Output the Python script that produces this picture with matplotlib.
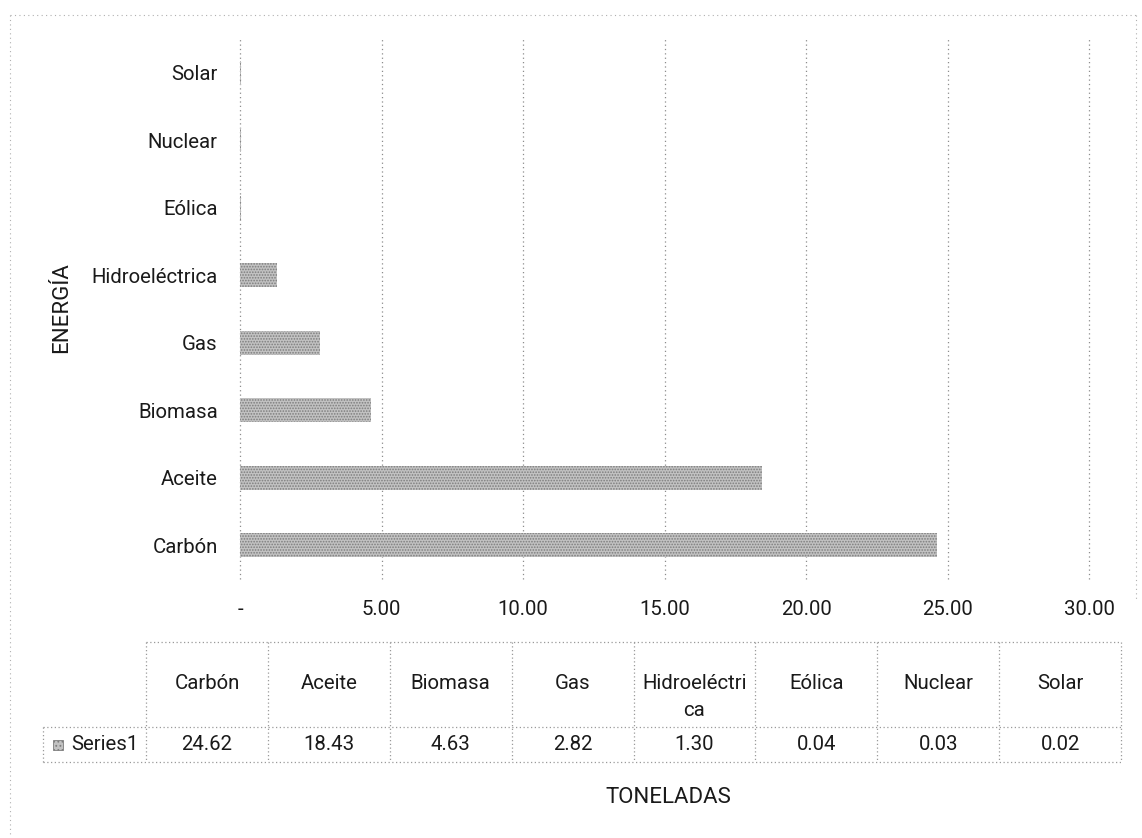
import matplotlib
matplotlib.use("Agg")
import matplotlib.pyplot as plt
from matplotlib.lines import Line2D
from matplotlib.patches import Rectangle
from matplotlib.ticker import FuncFormatter, MultipleLocator

# Data
categories = ["Carbón", "Aceite", "Biomasa", "Gas", "Hidroeléctrica", "Eólica", "Nuclear", "Solar"]
toneladas = [24.62, 18.43, 4.63, 2.82, 1.30, 0.04, 0.03, 0.02]
series_name = "Series1"
x_label = "TONELADAS"
y_label = "ENERGÍA"

plt.rcParams["font.family"] = ["Roboto", "DejaVu Sans"]
plt.rcParams["hatch.linewidth"] = 0.8
TXT = "#1a1a1a"
GRID = "#8c8c8c"
BAR = "#c2c2c2"
FS = 14.7
FS_TITLE = 16

W, H = 1142, 838
fig = plt.figure(figsize=(W / 100, H / 100), dpi=100)
fig.patch.set_facecolor("white")


def fx(px):
    return px / W


def fy(py):
    return 1 - py / H


ax = fig.add_axes([fx(240), fy(579), fx(1089) - fx(240), fy(39) - fy(579)])
ypos = list(range(len(categories)))
ax.barh(ypos, toneladas, height=0.36, color=BAR, hatch="......",
        edgecolor="#7d7d7d", linewidth=0)
ax.set_xlim(0, 30)
ax.set_ylim(-0.5, len(categories) - 0.5)
ax.set_yticks(ypos)
ax.set_yticklabels(categories)
ax.xaxis.set_major_locator(MultipleLocator(5))
ax.xaxis.set_major_formatter(FuncFormatter(lambda v, p: "-" if v == 0 else f"{v:.2f}"))
ax.tick_params(axis="both", length=0, labelsize=FS, colors=TXT)
ax.tick_params(axis="x", pad=15)
ax.tick_params(axis="y", pad=16)
for s in ax.spines.values():
    s.set_visible(False)
ax.grid(axis="x", linestyle=(0, (1, 2.5)), color=GRID, linewidth=0.9)
ax.set_axisbelow(True)
for gl in ax.get_xgridlines():
    gl.set_clip_on(False)

fig.text(fx(62), fy(308), y_label, rotation=90, ha="center", va="center",
         fontsize=FS_TITLE, color=TXT)

# Data table under the chart
left, right = 146, 1121
top, mid, bottom = 642, 727, 762
leg_left = 43
ncol = len(categories)
colw = (right - left) / ncol
line_kw = dict(color="#9a9a9a", linewidth=0.9, linestyle=(0, (1, 2)))


def hline(x0, x1, y):
    fig.add_artist(Line2D([fx(x0), fx(x1)], [fy(y), fy(y)], **line_kw))


def vline(x, y0, y1):
    fig.add_artist(Line2D([fx(x), fx(x)], [fy(y0), fy(y1)], **line_kw))


hline(left, right, top)
hline(leg_left, right, mid)
hline(leg_left, right, bottom)
vline(leg_left, mid, bottom)
for i in range(ncol + 1):
    vline(left + i * colw, top, bottom)


def wrap(label, width=12):
    return "\n".join(label[i:i + width] for i in range(0, len(label), width))


for i, (cat, val) in enumerate(zip(categories, toneladas)):
    cx = left + (i + 0.5) * colw
    text = wrap(cat)
    cy = 697 if "\n" in text else 683
    fig.text(fx(cx), fy(cy), text, ha="center", va="center",
             fontsize=FS, color=TXT, linespacing=1.48)
    fig.text(fx(cx), fy(744), f"{val:.2f}", ha="center",
             va="center", fontsize=FS, color=TXT)

fig.add_artist(Rectangle((fx(53), fy(750)), fx(10), fy(740) - fy(750),
                         facecolor=BAR, hatch="....", edgecolor="#7d7d7d",
                         linewidth=0.6))
fig.text(fx(71), fy(744), series_name, ha="left", va="center",
         fontsize=FS, color=TXT)

fig.text(fx(668), fy(797), x_label, ha="center", va="center", fontsize=FS_TITLE,
         color=TXT)

# Chart area frame
frame_kw = dict(color="#b0b0b0", linewidth=0.8, linestyle=(0, (1, 3)))
fig.add_artist(Line2D([fx(10), fx(1137)], [fy(15), fy(15)], **frame_kw))
fig.add_artist(Line2D([fx(10), fx(10)], [fy(15), fy(835)], **frame_kw))
fig.add_artist(Line2D([fx(1136), fx(1136)], [fy(15), fy(600)], **frame_kw))

fig.savefig("out.png", dpi=100, facecolor="white")
